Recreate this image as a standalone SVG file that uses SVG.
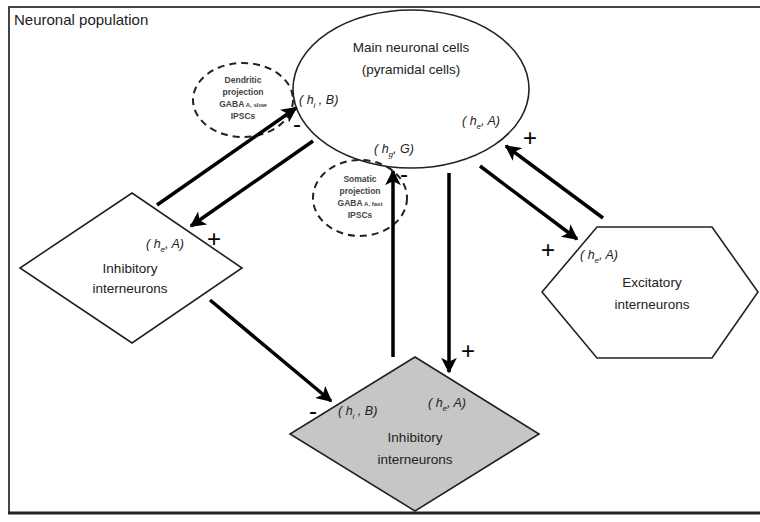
<svg xmlns="http://www.w3.org/2000/svg" width="760" height="522" viewBox="0 0 760 522">
<defs>
<marker id="ah" viewBox="0 0 10 10" refX="9" refY="5" markerWidth="4.5" markerHeight="4.5" markerUnits="strokeWidth" orient="auto">
<path d="M0,0 L10,5 L0,10 L2.5,5 Z" fill="#000"/>
</marker>
<style>
text{font-family:"Liberation Sans",Arial,sans-serif;fill:#222}
.node{fill:#fff;stroke:#222;stroke-width:1.6}
.gray{fill:#c6c6c6}
.dash{fill:none;stroke:#222;stroke-width:2;stroke-dasharray:7,5}
.lbl{font-size:13.5px;text-anchor:middle}
.par{font-size:12.5px;font-style:italic}
.small{font-size:8.5px;font-weight:bold;text-anchor:middle;fill:#444}
.sign{font-size:24px;text-anchor:middle;fill:#000}
.conn line{stroke:#000;stroke-width:3.5;marker-end:url(#ah)}
</style>
</defs>
<rect width="760" height="522" fill="#fff"/>
<g id="border">
<path d="M9,513 L9,7 L760,7" fill="none" stroke="#444" stroke-width="2"/>
<line x1="8" y1="513" x2="760" y2="513" stroke="#222" stroke-width="3"/>
<text x="14" y="25" style="font-size:15px">Neuronal population</text>
</g>
<g id="main">
<ellipse class="node" cx="411" cy="89" rx="118" ry="79"/>
<text class="lbl" x="411" y="52">Main neuronal cells</text>
<text class="lbl" x="411" y="74">(pyramidal cells)</text>
<text class="par" x="299" y="104">( h<tspan font-size="8" dy="4">i</tspan><tspan dy="-4"> , B)</tspan></text>
<text class="par" x="462" y="125">( h<tspan font-size="8" dy="4">e</tspan><tspan dy="-4">, A)</tspan></text>
<text class="par" x="374" y="153">( h<tspan font-size="8" dy="4">g</tspan><tspan dy="-4">, G)</tspan></text>
</g>
<g id="dendritic">
<ellipse class="dash" cx="243" cy="100" rx="50" ry="37"/>
<text class="small" x="243" y="83">Dendritic</text>
<text class="small" x="243" y="95">projection</text>
<text class="small" x="243" y="107">GABA<tspan font-size="6"> A, slow</tspan></text>
<text class="small" x="243" y="119">IPSCs</text>
</g>
<g id="somatic">
<ellipse class="dash" cx="360" cy="198" rx="47" ry="38"/>
<text class="small" x="360" y="182">Somatic</text>
<text class="small" x="360" y="194">projection</text>
<text class="small" x="360" y="206">GABA<tspan font-size="6"> A, fast</tspan></text>
<text class="small" x="360" y="218">IPSCs</text>
</g>
<g id="inh1">
<polygon class="node" points="132,193 242,268 132,343 20,268"/>
<text class="par" x="146" y="248">( h<tspan font-size="8" dy="4">e</tspan><tspan dy="-4">, A)</tspan></text>
<text class="lbl" x="130" y="273">Inhibitory</text>
<text class="lbl" x="130" y="293">interneurons</text>
</g>
<g id="exc">
<polygon class="node" points="597,227 712,227 758,292 712,358 597,358 542,292"/>
<text class="par" x="580" y="259">( h<tspan font-size="8" dy="4">e</tspan><tspan dy="-4">, A)</tspan></text>
<text class="lbl" x="652" y="287">Excitatory</text>
<text class="lbl" x="652" y="309">interneurons</text>
</g>
<g id="inh2">
<polygon class="node gray" points="415,357 539,434 415,511 290,434"/>
<text class="par" x="338" y="415">( h<tspan font-size="8" dy="4">i</tspan><tspan dy="-4"> , B)</tspan></text>
<text class="par" x="428" y="407">( h<tspan font-size="8" dy="4">e</tspan><tspan dy="-4">, A)</tspan></text>
<text class="lbl" x="415" y="442">Inhibitory</text>
<text class="lbl" x="415" y="464">interneurons</text>
</g>
<g id="connectors" class="conn">
<line x1="157" y1="205" x2="296" y2="108"/>
<line x1="313" y1="141" x2="191" y2="226"/>
<line x1="210" y1="300" x2="331" y2="401"/>
<line x1="393" y1="357" x2="393" y2="171"/>
<line x1="449" y1="173" x2="449" y2="372"/>
<line x1="480" y1="166" x2="577" y2="239"/>
<line x1="603" y1="218" x2="506" y2="146"/>
</g>
<g id="signs">
<text class="sign" x="297" y="132">-</text>
<text class="sign" x="404" y="182">-</text>
<text class="sign" x="530" y="146">+</text>
<text class="sign" x="214" y="247">+</text>
<text class="sign" x="548" y="258">+</text>
<text class="sign" x="313" y="419">-</text>
<text class="sign" x="468" y="359">+</text>
</g>
</svg>
